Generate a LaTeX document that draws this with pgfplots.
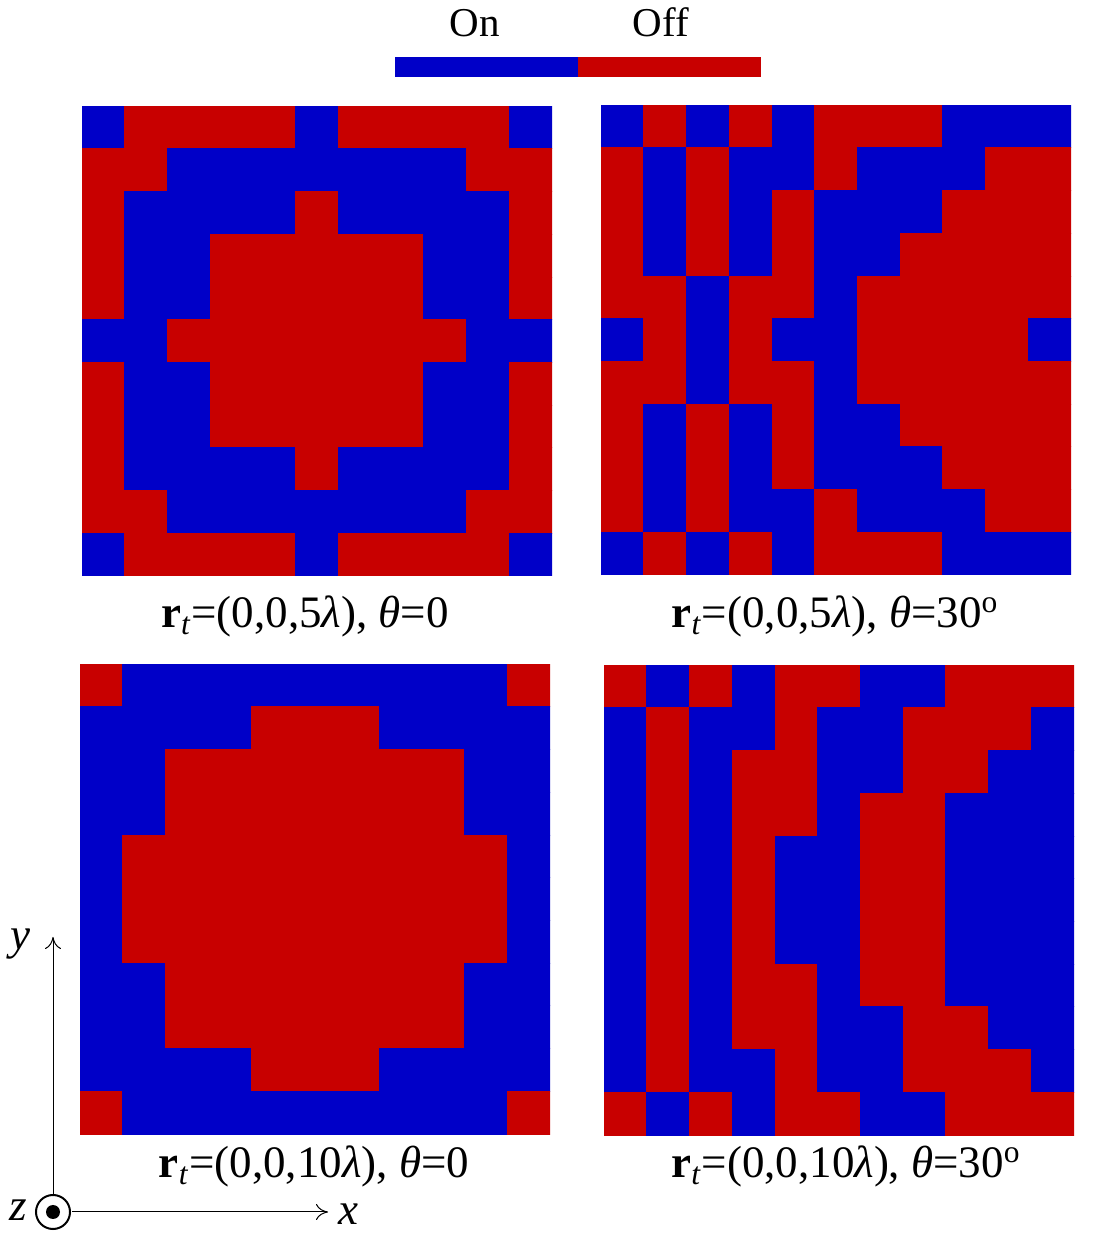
\documentclass[border=0pt]{standalone}
\usepackage{pgfplots}
\pgfplotsset{compat=1.18}
\usepackage{fontspec}
\setmainfont{Liberation Serif}
\usetikzlibrary{arrows.meta}
\definecolor{onblue}{RGB}{0,0,200}
\definecolor{offred}{RGB}{200,0,0}
\pgfplotsset{panel/.style={width=235pt,height=235pt,scale only axis,hide axis,
  xmin=-0.5,xmax=10.5,ymin=-0.5,ymax=10.5,anchor=south west,
  colormap={rb}{rgb255=(0,0,200) rgb255=(200,0,0)},
  point meta min=0,point meta max=1}}
\newcommand{\lab}{\fontsize{22.5}{26}\selectfont}
\begin{document}
\begin{tikzpicture}
\useasboundingbox (0,0) rectangle (548pt,623pt);
% colour key
\fill[onblue] (197.5pt,584.5pt) rectangle (289pt,594.5pt);
\fill[offred] (289pt,584.5pt) rectangle (380.5pt,594.5pt);
\node[anchor=base,font=\fontsize{20.5}{24}\selectfont] at (237.5pt,604.5pt) {On};
\node[anchor=base,font=\fontsize{20.5}{24}\selectfont] at (330.5pt,604.5pt) {Off};
% top-left
\begin{axis}[panel,at={(41pt,335pt)}]
\addplot[matrix plot,mesh/cols=11,point meta=explicit] coordinates {
(0,0)[0] (1,0)[1] (2,0)[1] (3,0)[1] (4,0)[1] (5,0)[0] (6,0)[1] (7,0)[1] (8,0)[1] (9,0)[1] (10,0)[0]
(0,1)[1] (1,1)[1] (2,1)[0] (3,1)[0] (4,1)[0] (5,1)[0] (6,1)[0] (7,1)[0] (8,1)[0] (9,1)[1] (10,1)[1]
(0,2)[1] (1,2)[0] (2,2)[0] (3,2)[0] (4,2)[0] (5,2)[1] (6,2)[0] (7,2)[0] (8,2)[0] (9,2)[0] (10,2)[1]
(0,3)[1] (1,3)[0] (2,3)[0] (3,3)[1] (4,3)[1] (5,3)[1] (6,3)[1] (7,3)[1] (8,3)[0] (9,3)[0] (10,3)[1]
(0,4)[1] (1,4)[0] (2,4)[0] (3,4)[1] (4,4)[1] (5,4)[1] (6,4)[1] (7,4)[1] (8,4)[0] (9,4)[0] (10,4)[1]
(0,5)[0] (1,5)[0] (2,5)[1] (3,5)[1] (4,5)[1] (5,5)[1] (6,5)[1] (7,5)[1] (8,5)[1] (9,5)[0] (10,5)[0]
(0,6)[1] (1,6)[0] (2,6)[0] (3,6)[1] (4,6)[1] (5,6)[1] (6,6)[1] (7,6)[1] (8,6)[0] (9,6)[0] (10,6)[1]
(0,7)[1] (1,7)[0] (2,7)[0] (3,7)[1] (4,7)[1] (5,7)[1] (6,7)[1] (7,7)[1] (8,7)[0] (9,7)[0] (10,7)[1]
(0,8)[1] (1,8)[0] (2,8)[0] (3,8)[0] (4,8)[0] (5,8)[1] (6,8)[0] (7,8)[0] (8,8)[0] (9,8)[0] (10,8)[1]
(0,9)[1] (1,9)[1] (2,9)[0] (3,9)[0] (4,9)[0] (5,9)[0] (6,9)[0] (7,9)[0] (8,9)[0] (9,9)[1] (10,9)[1]
(0,10)[0] (1,10)[1] (2,10)[1] (3,10)[1] (4,10)[1] (5,10)[0] (6,10)[1] (7,10)[1] (8,10)[1] (9,10)[1] (10,10)[0]
};
\end{axis}
% top-right
\begin{axis}[panel,at={(300.5pt,335.5pt)}]
\addplot[matrix plot,mesh/cols=11,point meta=explicit] coordinates {
(0,0)[0] (1,0)[1] (2,0)[0] (3,0)[1] (4,0)[0] (5,0)[1] (6,0)[1] (7,0)[1] (8,0)[0] (9,0)[0] (10,0)[0]
(0,1)[1] (1,1)[0] (2,1)[1] (3,1)[0] (4,1)[0] (5,1)[1] (6,1)[0] (7,1)[0] (8,1)[0] (9,1)[1] (10,1)[1]
(0,2)[1] (1,2)[0] (2,2)[1] (3,2)[0] (4,2)[1] (5,2)[0] (6,2)[0] (7,2)[0] (8,2)[1] (9,2)[1] (10,2)[1]
(0,3)[1] (1,3)[0] (2,3)[1] (3,3)[0] (4,3)[1] (5,3)[0] (6,3)[0] (7,3)[1] (8,3)[1] (9,3)[1] (10,3)[1]
(0,4)[1] (1,4)[1] (2,4)[0] (3,4)[1] (4,4)[1] (5,4)[0] (6,4)[1] (7,4)[1] (8,4)[1] (9,4)[1] (10,4)[1]
(0,5)[0] (1,5)[1] (2,5)[0] (3,5)[1] (4,5)[0] (5,5)[0] (6,5)[1] (7,5)[1] (8,5)[1] (9,5)[1] (10,5)[0]
(0,6)[1] (1,6)[1] (2,6)[0] (3,6)[1] (4,6)[1] (5,6)[0] (6,6)[1] (7,6)[1] (8,6)[1] (9,6)[1] (10,6)[1]
(0,7)[1] (1,7)[0] (2,7)[1] (3,7)[0] (4,7)[1] (5,7)[0] (6,7)[0] (7,7)[1] (8,7)[1] (9,7)[1] (10,7)[1]
(0,8)[1] (1,8)[0] (2,8)[1] (3,8)[0] (4,8)[1] (5,8)[0] (6,8)[0] (7,8)[0] (8,8)[1] (9,8)[1] (10,8)[1]
(0,9)[1] (1,9)[0] (2,9)[1] (3,9)[0] (4,9)[0] (5,9)[1] (6,9)[0] (7,9)[0] (8,9)[0] (9,9)[1] (10,9)[1]
(0,10)[0] (1,10)[1] (2,10)[0] (3,10)[1] (4,10)[0] (5,10)[1] (6,10)[1] (7,10)[1] (8,10)[0] (9,10)[0] (10,10)[0]
};
\end{axis}
% bottom-left
\begin{axis}[panel,at={(40pt,56pt)}]
\addplot[matrix plot,mesh/cols=11,point meta=explicit] coordinates {
(0,0)[1] (1,0)[0] (2,0)[0] (3,0)[0] (4,0)[0] (5,0)[0] (6,0)[0] (7,0)[0] (8,0)[0] (9,0)[0] (10,0)[1]
(0,1)[0] (1,1)[0] (2,1)[0] (3,1)[0] (4,1)[1] (5,1)[1] (6,1)[1] (7,1)[0] (8,1)[0] (9,1)[0] (10,1)[0]
(0,2)[0] (1,2)[0] (2,2)[1] (3,2)[1] (4,2)[1] (5,2)[1] (6,2)[1] (7,2)[1] (8,2)[1] (9,2)[0] (10,2)[0]
(0,3)[0] (1,3)[0] (2,3)[1] (3,3)[1] (4,3)[1] (5,3)[1] (6,3)[1] (7,3)[1] (8,3)[1] (9,3)[0] (10,3)[0]
(0,4)[0] (1,4)[1] (2,4)[1] (3,4)[1] (4,4)[1] (5,4)[1] (6,4)[1] (7,4)[1] (8,4)[1] (9,4)[1] (10,4)[0]
(0,5)[0] (1,5)[1] (2,5)[1] (3,5)[1] (4,5)[1] (5,5)[1] (6,5)[1] (7,5)[1] (8,5)[1] (9,5)[1] (10,5)[0]
(0,6)[0] (1,6)[1] (2,6)[1] (3,6)[1] (4,6)[1] (5,6)[1] (6,6)[1] (7,6)[1] (8,6)[1] (9,6)[1] (10,6)[0]
(0,7)[0] (1,7)[0] (2,7)[1] (3,7)[1] (4,7)[1] (5,7)[1] (6,7)[1] (7,7)[1] (8,7)[1] (9,7)[0] (10,7)[0]
(0,8)[0] (1,8)[0] (2,8)[1] (3,8)[1] (4,8)[1] (5,8)[1] (6,8)[1] (7,8)[1] (8,8)[1] (9,8)[0] (10,8)[0]
(0,9)[0] (1,9)[0] (2,9)[0] (3,9)[0] (4,9)[1] (5,9)[1] (6,9)[1] (7,9)[0] (8,9)[0] (9,9)[0] (10,9)[0]
(0,10)[1] (1,10)[0] (2,10)[0] (3,10)[0] (4,10)[0] (5,10)[0] (6,10)[0] (7,10)[0] (8,10)[0] (9,10)[0] (10,10)[1]
};
\end{axis}
% bottom-right
\begin{axis}[panel,at={(302pt,55.5pt)}]
\addplot[matrix plot,mesh/cols=11,point meta=explicit] coordinates {
(0,0)[1] (1,0)[0] (2,0)[1] (3,0)[0] (4,0)[1] (5,0)[1] (6,0)[0] (7,0)[0] (8,0)[1] (9,0)[1] (10,0)[1]
(0,1)[0] (1,1)[1] (2,1)[0] (3,1)[0] (4,1)[1] (5,1)[0] (6,1)[0] (7,1)[1] (8,1)[1] (9,1)[1] (10,1)[0]
(0,2)[0] (1,2)[1] (2,2)[0] (3,2)[1] (4,2)[1] (5,2)[0] (6,2)[0] (7,2)[1] (8,2)[1] (9,2)[0] (10,2)[0]
(0,3)[0] (1,3)[1] (2,3)[0] (3,3)[1] (4,3)[1] (5,3)[0] (6,3)[1] (7,3)[1] (8,3)[0] (9,3)[0] (10,3)[0]
(0,4)[0] (1,4)[1] (2,4)[0] (3,4)[1] (4,4)[0] (5,4)[0] (6,4)[1] (7,4)[1] (8,4)[0] (9,4)[0] (10,4)[0]
(0,5)[0] (1,5)[1] (2,5)[0] (3,5)[1] (4,5)[0] (5,5)[0] (6,5)[1] (7,5)[1] (8,5)[0] (9,5)[0] (10,5)[0]
(0,6)[0] (1,6)[1] (2,6)[0] (3,6)[1] (4,6)[0] (5,6)[0] (6,6)[1] (7,6)[1] (8,6)[0] (9,6)[0] (10,6)[0]
(0,7)[0] (1,7)[1] (2,7)[0] (3,7)[1] (4,7)[1] (5,7)[0] (6,7)[1] (7,7)[1] (8,7)[0] (9,7)[0] (10,7)[0]
(0,8)[0] (1,8)[1] (2,8)[0] (3,8)[1] (4,8)[1] (5,8)[0] (6,8)[0] (7,8)[1] (8,8)[1] (9,8)[0] (10,8)[0]
(0,9)[0] (1,9)[1] (2,9)[0] (3,9)[0] (4,9)[1] (5,9)[0] (6,9)[0] (7,9)[1] (8,9)[1] (9,9)[1] (10,9)[0]
(0,10)[1] (1,10)[0] (2,10)[1] (3,10)[0] (4,10)[1] (5,10)[1] (6,10)[0] (7,10)[0] (8,10)[1] (9,10)[1] (10,10)[1]
};
\end{axis}
% panel captions
\node[anchor=base] at (152.5pt,309pt) {\lab\textbf{r}\textsubscript{\textit{t}}=(0,0,5\textit{λ}), \textit{θ}=0};
\node[anchor=base] at (417.5pt,309pt) {\lab\textbf{r}\textsubscript{\textit{t}}=(0,0,5\textit{λ}), \textit{θ}=30\textsuperscript{o}};
\node[anchor=base] at (157pt,34pt) {\lab\textbf{r}\textsubscript{\textit{t}}=(0,0,10\textit{λ}), \textit{θ}=0};
\node[anchor=base] at (423pt,34pt) {\lab\textbf{r}\textsubscript{\textit{t}}=(0,0,10\textit{λ}), \textit{θ}=30\textsuperscript{o}};
% coordinate triad
\draw[line width=0.5pt,-{To[length=6pt,width=8pt]}] (26.5pt,25.5pt) -- (26.5pt,154.5pt);
\draw[line width=0.5pt,-{To[length=6pt,width=8pt]}] (36pt,17pt) -- (164pt,17pt);
\draw[line width=1pt] (26.5pt,17pt) circle (8.5pt);
\fill (26.5pt,17pt) circle (3.5pt);
\node[font=\lab\itshape] at (10pt,151pt) {y};
\node[font=\lab\itshape] at (9pt,18pt) {z};
\node[font=\lab\itshape] at (174pt,16pt) {x};
\end{tikzpicture}
\end{document}
